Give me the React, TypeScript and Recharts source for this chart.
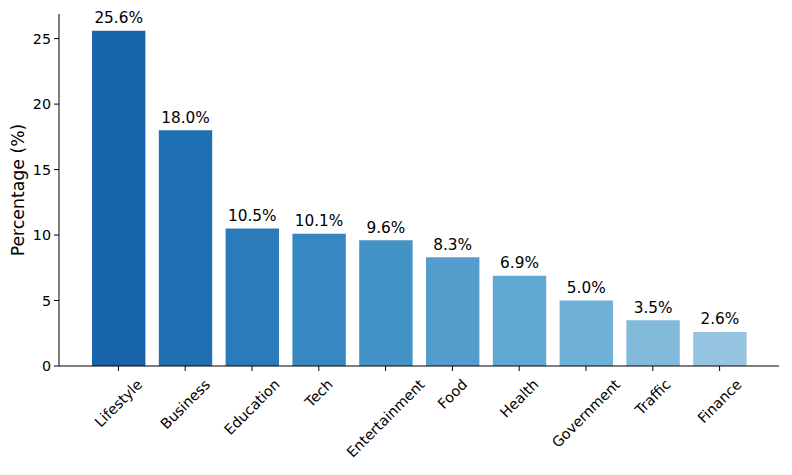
import React from 'react';
import { BarChart, Bar, XAxis, YAxis, Cell, LabelList } from 'recharts';

const categories = ['Lifestyle', 'Business', 'Education', 'Tech', 'Entertainment', 'Food', 'Health', 'Government', 'Traffic', 'Finance'];
const percentages = [25.6, 18.0, 10.5, 10.1, 9.6, 8.3, 6.9, 5.0, 3.5, 2.6];
const yTicks = [0, 5, 10, 15, 20, 25];

const palette = ['#1764ab', '#2070b4', '#2b7bba', '#3787c0', '#4393c6', '#529dcc', '#60a7d2', '#6fb0d7', '#82badb', '#94c4df'];

const data = categories.map((name, i) => ({ name, value: percentages[i] }));

const FONT = '"DejaVu Sans", "Liberation Sans", sans-serif';
const TICK_SIZE = 14.3;

let ctx: CanvasRenderingContext2D | null = null;
const measure = (text: string, size: number) => {
  if (!ctx) ctx = document.createElement('canvas').getContext('2d');
  if (!ctx) return text.length * size * 0.6;
  ctx.font = `${size}px "DejaVu Sans"`;
  return ctx.measureText(text).width;
};

const XTick = (props: any) => {
  const { x, y, payload } = props;
  const label = String(payload.value);
  const L = measure(label, TICK_SIZE);
  const h = TICK_SIZE * 1.164;
  const cx = x;
  const cy = y + (L + h) * 0.35355;
  return (
    <text
      x={cx}
      y={cy}
      textAnchor="middle"
      dominantBaseline="central"
      transform={`rotate(-45, ${cx}, ${cy})`}
      fontSize={TICK_SIZE}
      fontFamily={FONT}
      fill="#000"
    >
      {label}
    </text>
  );
};

const YLabel = (props: any) => {
  const vb = props.viewBox || { x: 0, y: 14, width: 59, height: 352 };
  const cx = 18;
  const cy = vb.y + vb.height / 2;
  return (
    <text
      x={cx}
      y={cy}
      textAnchor="middle"
      dominantBaseline="central"
      transform={`rotate(-90, ${cx}, ${cy})`}
      fontSize={17.3}
      fontFamily={FONT}
      fill="#000"
    >
      Percentage (%)
    </text>
  );
};

export default function App() {
  return (
    <div style={{ position: 'absolute', left: 0, top: 0, width: 792, height: 475, background: '#fff' }}>
      <BarChart
        width={792}
        height={475}
        data={data}
        margin={{ top: 14, right: 13, left: 0, bottom: 0 }}
      >
        <XAxis
          dataKey="name"
          type="category"
          height={109}
          padding={{ left: 26, right: 26 }}
          interval={0}
          tickSize={5}
          tickMargin={5}
          axisLine={{ stroke: '#000', strokeWidth: 1 }}
          tickLine={{ stroke: '#000', strokeWidth: 1 }}
          tick={XTick}
        />
        <YAxis
          type="number"
          width={59}
          domain={[0, 26.88]}
          ticks={yTicks}
          allowDataOverflow
          tickSize={5}
          tickMargin={3}
          axisLine={{ stroke: '#000', strokeWidth: 1 }}
          tickLine={{ stroke: '#000', strokeWidth: 1 }}
          tick={{ fill: '#000', fontSize: TICK_SIZE, fontFamily: FONT }}
          label={<YLabel />}
        />
        <Bar dataKey="value" barSize={53.4} isAnimationActive={false}>
          {data.map((d, i) => (
            <Cell key={d.name} fill={palette[i]} />
          ))}
          <LabelList
            dataKey="value"
            position="top"
            offset={7.5}
            formatter={(v: any) => `${Number(v).toFixed(1)}%`}
            fill="#000"
            fontSize={15.3}
            fontFamily={FONT}
          />
        </Bar>
      </BarChart>
    </div>
  );
}
